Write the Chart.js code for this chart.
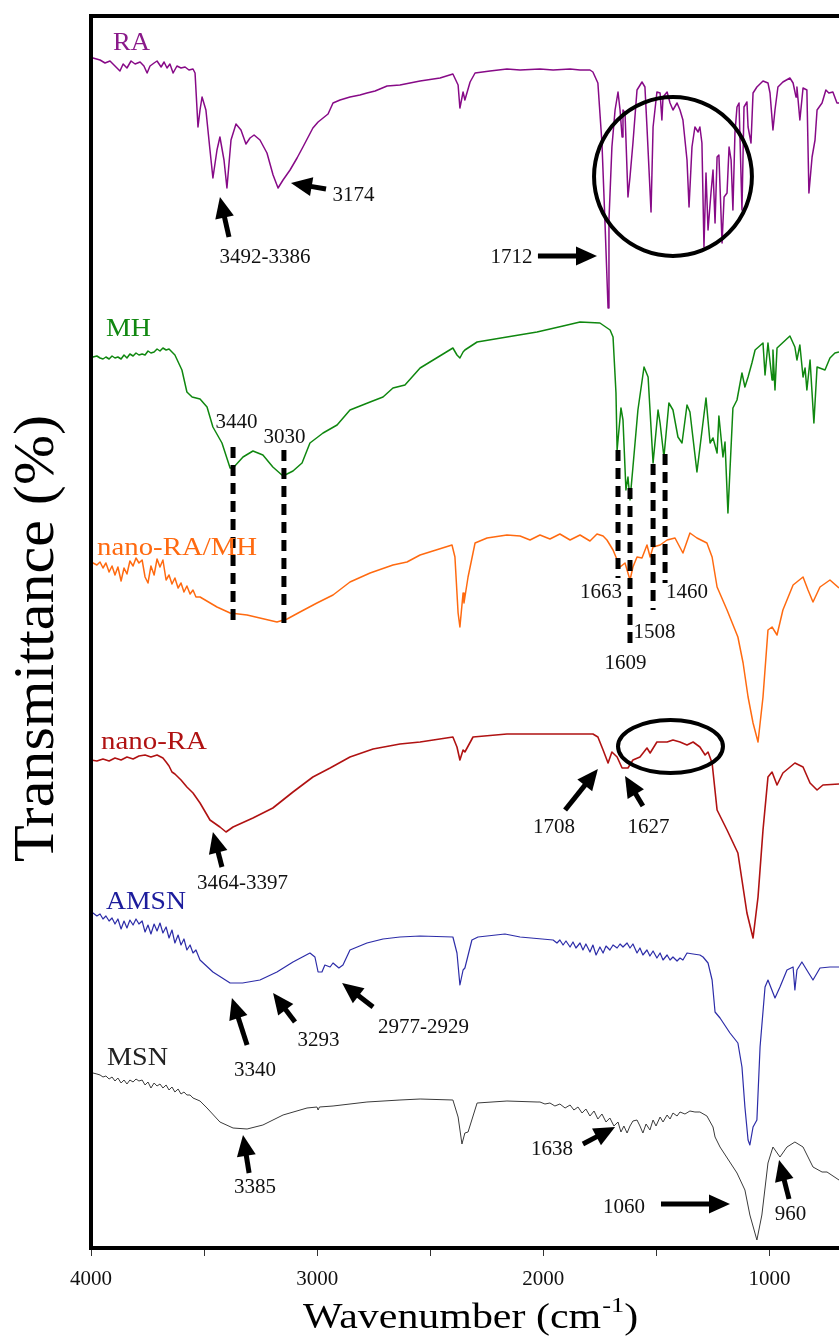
<!DOCTYPE html>
<html><head><meta charset="utf-8">
<script src="https://cdn.jsdelivr.net/npm/chart.js@4.4.1/dist/chart.umd.min.js"></script>
<style>html,body{margin:0;padding:0;background:#fff;}#wrap{position:relative;width:839px;height:1338px;}</style>
</head><body><div id="wrap"><canvas id="c"></canvas></div>
<script>
// ---------- DATA: [wavenumber (cm-1), offset transmittance (arb.)] ----------
const seriesNames = ['RA', 'MH', 'nano-RA/MH', 'nano-RA', 'AMSN', 'MSN'];
const tickValues = [4000, 3500, 3000, 2500, 2000, 1500, 1000];
const tickLabels = ['4000', '', '3000', '', '2000', '', '1000'];

const RA = [[4000,1190],[3991,1190],[3960,1188],[3938,1185],[3916,1187],[3894,1182],[3872,1177],[3858,1184],[3841,1180],[3823,1187],[3805,1184],[3783,1186],[3766,1182],[3752,1175],[3739,1182],[3721,1185],[3708,1187],[3690,1181],[3677,1186],[3664,1180],[3651,1184],[3637,1175],[3620,1182],[3602,1180],[3584,1181],[3567,1178],[3549,1179],[3540,1175],
[3527,1121],[3518,1138],[3509,1151],[3492,1138],[3474,1098],[3461,1070],[3443,1098],[3430,1111],[3412,1088],[3399,1060],[3381,1108],[3359,1124],[3337,1118],[3315,1104],[3297,1110],[3279,1113],[3253,1108],[3222,1095],[3195,1073],[3173,1060],[3151,1068],[3120,1078],[3089,1090],[3063,1101],[3019,1120],[2996,1126],[2974,1130],[2952,1134],[2930,1145],[2899,1148],[2855,1151],[2811,1153],[2780,1155],[2744,1157],[2691,1162],[2634,1163],[2545,1167],[2457,1170],[2400,1174],[2377,1163],[2369,1140],[2355,1156],[2347,1148],[2324,1166],[2302,1175],[2236,1177],[2161,1179],[2103,1178],[2015,1179],[1957,1178],[1882,1179],[1838,1178],[1794,1178],[1781,1176],[1759,1165],[1741,1105],[1728,1028],[1714,940],[1710,1028],[1697,1101],[1683,1138],[1670,1156],[1661,1138],[1652,1111],[1648,1138],[1639,1135],[1626,1051],[1617,1071],[1604,1105],[1586,1158],[1564,1166],[1551,1161],[1542,1121],[1524,1036],[1515,1121],[1498,1156],[1484,1155],[1476,1128],[1471,1151],[1453,1156],[1440,1145],[1427,1138],[1409,1145],[1396,1138],[1383,1128],[1365,1088],[1356,1041],[1343,1101],[1330,1121],[1316,1116],[1308,1121],[1299,1105],[1290,1001],[1281,1075],[1272,1018],[1259,1055],[1250,1078],[1241,1025],[1232,1091],[1224,1093],[1210,1005],[1201,1051],[1188,1055],[1179,1101],[1170,1088],[1162,1038],[1153,1115],[1144,1141],[1135,1145],[1122,1038],[1113,1141],[1100,1146],[1095,1121],[1082,1105],[1073,1155],[1056,1161],[1029,1167],[1007,1165],[998,1155],[985,1118],[976,1138],[963,1161],[941,1166],[910,1170],[896,1165],[883,1151],[879,1161],[866,1128],[852,1160],[835,1158],[826,1055],[812,1091],[799,1108],[790,1138],[768,1145],[751,1158],[738,1155],[720,1156],[702,1145],[693,1145]];

const MH = [[4000,891],[3991,891],[3974,892],[3960,890],[3947,889],[3934,891],[3920,889],[3907,892],[3894,890],[3881,891],[3867,889],[3854,893],[3841,890],[3828,894],[3814,892],[3801,895],[3788,893],[3774,894],[3761,893],[3748,897],[3735,895],[3721,896],[3708,899],[3695,897],[3682,900],[3668,898],[3655,899],[3642,896],[3629,893],[3598,878],[3576,856],[3553,851],[3518,849],[3487,841],[3461,821],[3421,805],[3385,780],[3372,780],[3328,791],[3284,797],[3240,793],[3196,781],[3151,772],[3107,777],[3067,785],[3032,805],[2974,815],[2912,823],[2855,838],[2766,846],[2709,851],[2665,860],[2612,863],[2545,880],[2400,900],[2382,893],[2369,890],[2355,896],[2347,898],[2293,906],[2161,911],[2028,916],[1913,922],[1838,926],[1750,925],[1705,918],[1692,911],[1679,855],[1674,798],[1657,840],[1648,828],[1635,758],[1626,771],[1617,748],[1604,781],[1582,838],[1555,881],[1537,871],[1515,785],[1493,838],[1484,825],[1467,791],[1445,845],[1427,838],[1405,811],[1387,805],[1365,843],[1352,836],[1321,776],[1281,850],[1263,805],[1250,810],[1232,795],[1224,832],[1206,791],[1197,806],[1184,735],[1162,840],[1144,848],[1122,875],[1109,861],[1095,871],[1078,885],[1064,898],[1029,905],[1020,873],[1007,905],[989,868],[985,898],[976,858],[967,900],[910,912],[888,901],[879,888],[866,903],[852,871],[843,880],[835,858],[821,888],[804,825],[790,881],[755,878],[733,890],[711,895],[693,896]];

const NANO_RA_MH = [[4000,685],[3991,685],[3974,683],[3960,686],[3947,680],[3934,685],[3920,676],[3907,682],[3894,673],[3881,681],[3867,667],[3854,680],[3841,674],[3828,687],[3814,682],[3801,690],[3788,685],[3774,688],[3761,671],[3748,665],[3735,682],[3721,673],[3708,689],[3695,681],[3682,688],[3668,668],[3655,673],[3642,664],[3629,670],[3615,660],[3602,665],[3589,656],[3576,662],[3562,654],[3549,658],[3536,651],[3518,651],[3443,641],[3385,635],[3310,633],[3178,626],[3133,629],[3076,636],[3001,645],[2930,653],[2855,666],[2766,675],[2665,683],[2603,686],[2545,693],[2404,703],[2391,691],[2377,635],[2369,621],[2355,655],[2351,645],[2333,671],[2302,705],[2249,710],[2161,713],[2103,712],[2059,708],[2015,713],[1971,709],[1927,714],[1882,708],[1838,713],[1794,707],[1763,714],[1736,712],[1719,708],[1692,698],[1661,681],[1639,685],[1617,668],[1604,681],[1586,691],[1564,690],[1542,703],[1528,691],[1515,701],[1484,703],[1453,708],[1418,710],[1383,695],[1352,715],[1321,710],[1277,705],[1254,691],[1232,661],[1188,638],[1140,611],[1117,585],[1095,551],[1073,525],[1051,506],[1029,551],[1007,618],[989,621],[967,613],[941,638],[896,663],[852,671],[830,658],[808,646],[777,661],[733,668],[693,660]];

const NANO_RA = [[4000,488],[3974,487],[3947,489],[3920,487],[3894,490],[3867,488],[3841,491],[3814,489],[3788,492],[3761,493],[3735,491],[3708,493],[3682,490],[3668,486],[3655,482],[3642,476],[3629,474],[3602,468],[3576,461],[3549,455],[3518,445],[3474,428],[3430,421],[3403,416],[3372,421],[3284,430],[3196,440],[3107,456],[3019,471],[2943,480],[2855,491],[2753,499],[2634,504],[2545,506],[2400,511],[2382,501],[2369,488],[2355,498],[2347,496],[2311,511],[2161,514],[1957,514],[1781,514],[1759,511],[1736,498],[1714,485],[1697,496],[1674,491],[1652,480],[1626,480],[1604,488],[1573,491],[1542,500],[1528,495],[1498,506],[1453,506],[1427,508],[1396,506],[1365,503],[1338,506],[1308,501],[1285,493],[1272,496],[1254,485],[1232,438],[1188,418],[1140,395],[1122,368],[1100,335],[1073,310],[1051,351],[1029,418],[1007,471],[989,476],[967,463],[941,475],[888,485],[852,481],[821,465],[790,458],[764,463],[693,464]];

const AMSN = [[4000,335],[3991,335],[3974,332],[3960,334],[3947,329],[3934,332],[3920,327],[3907,330],[3894,324],[3881,329],[3867,319],[3854,327],[3841,320],[3828,328],[3814,323],[3801,329],[3788,324],[3774,327],[3761,316],[3748,323],[3735,314],[3721,324],[3708,317],[3695,325],[3682,315],[3668,321],[3655,310],[3642,318],[3629,305],[3615,313],[3602,303],[3589,309],[3576,298],[3562,303],[3549,295],[3536,298],[3518,288],[3461,276],[3385,265],[3330,265],[3253,268],[3178,276],[3107,286],[3032,295],[3010,291],[2996,276],[2979,276],[2966,283],[2943,281],[2930,285],[2904,280],[2886,283],[2855,298],[2780,305],[2709,309],[2634,311],[2545,312],[2400,311],[2382,295],[2369,263],[2355,278],[2347,280],[2316,308],[2289,311],[2170,314],[2103,311],[1957,308],[1940,305],[1927,308],[1913,303],[1900,307],[1882,301],[1869,306],[1856,300],[1838,305],[1825,298],[1812,304],[1794,296],[1781,303],[1767,293],[1750,301],[1736,295],[1723,302],[1706,298],[1692,303],[1674,300],[1661,304],[1648,301],[1630,305],[1617,300],[1604,304],[1586,295],[1573,300],[1560,293],[1542,298],[1529,292],[1515,297],[1498,290],[1484,295],[1471,288],[1453,293],[1440,288],[1427,291],[1409,287],[1396,290],[1383,288],[1365,295],[1338,294],[1308,293],[1294,291],[1272,285],[1254,268],[1241,236],[1219,230],[1175,215],[1140,205],[1122,181],[1109,141],[1095,108],[1087,103],[1073,121],[1056,128],[1042,201],[1020,261],[1007,268],[976,250],[954,261],[923,278],[896,281],[888,258],[879,278],[857,286],[830,276],[808,268],[777,280],[733,281],[693,281]];

const MSN = [[4000,175],[3991,175],[3974,174],[3960,173],[3947,171],[3934,172],[3920,169],[3907,171],[3894,167],[3881,170],[3867,165],[3854,168],[3841,164],[3828,168],[3814,166],[3801,169],[3788,167],[3774,168],[3761,163],[3748,166],[3735,160],[3721,165],[3708,162],[3695,164],[3682,160],[3668,163],[3655,158],[3642,161],[3629,156],[3615,159],[3602,154],[3589,156],[3576,153],[3562,153],[3549,150],[3518,147],[3487,140],[3430,126],[3372,120],[3310,119],[3240,123],[3151,133],[3045,140],[3001,141],[2996,138],[2990,141],[2930,142],[2780,146],[2634,148],[2545,149],[2400,148],[2377,131],[2360,104],[2347,115],[2333,116],[2293,145],[2161,147],[2028,146],[2015,146],[1993,144],[1971,145],[1949,142],[1927,144],[1904,140],[1882,143],[1865,138],[1847,141],[1829,135],[1812,139],[1794,132],[1776,137],[1759,129],[1741,134],[1723,126],[1706,130],[1688,122],[1670,126],[1657,116],[1644,122],[1630,115],[1617,122],[1604,127],[1586,128],[1573,122],[1560,115],[1546,124],[1529,118],[1515,128],[1502,122],[1484,131],[1471,126],[1453,133],[1440,129],[1427,135],[1409,132],[1396,136],[1374,134],[1352,137],[1330,136],[1308,136],[1277,132],[1250,121],[1241,111],[1219,101],[1144,75],[1109,58],[1087,33],[1056,8],[1034,33],[1007,85],[985,101],[954,91],[923,101],[888,106],[852,101],[808,81],[768,76],[746,76],[693,68]];

const seriesData = [RA, MH, NANO_RA_MH, NANO_RA, AMSN, MSN];

// series name labels: [left wavenumber, centre value]
const nameAnchors = [[3903,1207],[3934,921],[3973,702],[3956,508],[3934,348],[3929,192]];
// peak labels: [text, centre wavenumber, centre value]
const peakLabels = [['3174',2840,1054],['3492-3386',3231,992],['1712',2141,992],['3440',3357,827],['3030',3145,812],['1663',1745,657],['1460',1365,657],['1508',1509,617],['1609',1637,586],['3464-3397',3330,366],['1708',1953,422],['1627',1535,422],['3340',3275,179],['3293',2994,209],['2977-2929',2530,222],['3385',3275,62],['1638',1962,100],['1060',1644,42],['960',907,35]];
// arrows: [tail wn, tail value, tip wn, tip value]
const arrows = [[2961,1059,3116,1065],[3390,1011,3430,1051],[2024,992,1763,992],[3421,381,3461,416],[1904,438,1759,479],[1560,442,1639,472],[3310,203,3377,250],[3098,226,3195,255],[2753,241,2890,265],[3301,75,3328,113],[1825,104,1683,121],[1480,44,1175,44],[914,49,958,88]];
// dashed guide lines: [wn, value top, value bottom]
const guides = [[3372,801,623],[3147,798,621],[1670,798,670],[1617,760,603],[1515,784,638],[1462,794,665]];
// highlight ellipses: [wn left, wn right, value top, value bottom]
const rings = [[1776,1078,1151,992],[1670,1206,528,475]];

const xMin = 693, xMax = 4000, yMin = 0, yMax = 1232;

// ---------- STYLE ----------
const SERIF = '"Liberation Serif", "DejaVu Serif", serif';
const lineColors = ['#870a87', '#0f870f', '#ff6a10', '#b01212', '#2c2ca8', '#3a3a3a'];
const lineWidths = [1.5, 1.5, 1.5, 1.6, 1.2, 1.0];
const nameColors = ['#8a1a8a', '#118811', '#ff6a10', '#b01212', '#1c1c9c', '#222222'];
const nameWidths = [37, 45, 160, 106, 80, 61];

function stretchText(ctx, str, x, baseline, targetW, align) {
  const w = ctx.measureText(str).width;
  const s = targetW ? targetW / w : 1;
  ctx.save();
  ctx.translate(x, baseline);
  ctx.scale(s, 1);
  ctx.textAlign = align || 'left';
  ctx.textBaseline = 'alphabetic';
  ctx.fillText(str, 0, 0);
  ctx.restore();
}

const annot = {
  id: 'annot',
  afterDraw(chart) {
    const {ctx, chartArea: a, scales} = chart;
    const X = w => scales.x.getPixelForValue(w);
    const Y = v => scales.y.getPixelForValue(v);
    ctx.save();
    // frame
    ctx.strokeStyle = '#000'; ctx.lineWidth = 4; ctx.lineCap = 'butt'; ctx.setLineDash([]);
    ctx.beginPath();
    ctx.moveTo(a.left, a.bottom + 2); ctx.lineTo(a.left, a.top - 2);
    ctx.moveTo(a.left - 2, a.top); ctx.lineTo(a.right, a.top);
    ctx.moveTo(a.left - 2, a.bottom); ctx.lineTo(a.right, a.bottom);
    ctx.stroke();
    // rings
    ctx.lineWidth = 4;
    rings.forEach(r => {
      const x1 = X(r[0]), x2 = X(r[1]), y1 = Y(r[2]), y2 = Y(r[3]);
      ctx.beginPath();
      ctx.ellipse((x1 + x2) / 2, (y1 + y2) / 2, Math.abs(x2 - x1) / 2, Math.abs(y2 - y1) / 2, 0, 0, Math.PI * 2);
      ctx.stroke();
    });
    // dashed guides
    ctx.lineWidth = 5; ctx.setLineDash([11, 7]);
    guides.forEach(g => {
      ctx.beginPath(); ctx.moveTo(X(g[0]), Y(g[1])); ctx.lineTo(X(g[0]), Y(g[2])); ctx.stroke();
    });
    ctx.setLineDash([]);
    // arrows
    ctx.fillStyle = '#000';
    arrows.forEach(ar => {
      const x1 = X(ar[0]), y1 = Y(ar[1]), x2 = X(ar[2]), y2 = Y(ar[3]);
      const ang = Math.atan2(y2 - y1, x2 - x1);
      const hl = 21, hw = 9.5;
      const bx = x2 - hl * Math.cos(ang), by = y2 - hl * Math.sin(ang);
      ctx.lineWidth = 5;
      ctx.beginPath(); ctx.moveTo(x1, y1); ctx.lineTo(bx + Math.cos(ang), by + Math.sin(ang)); ctx.stroke();
      ctx.beginPath();
      ctx.moveTo(x2, y2);
      ctx.lineTo(bx + hw * Math.sin(ang), by - hw * Math.cos(ang));
      ctx.lineTo(bx - hw * Math.sin(ang), by + hw * Math.cos(ang));
      ctx.closePath(); ctx.fill();
    });
    // peak labels
    ctx.font = '21px ' + SERIF; ctx.fillStyle = '#111';
    peakLabels.forEach(p => stretchText(ctx, p[0], X(p[1]), Y(p[2]) + 7, 0, 'center'));
    // series names
    ctx.font = '26px ' + SERIF;
    seriesNames.forEach((n, i) => {
      ctx.fillStyle = nameColors[i];
      stretchText(ctx, n, X(nameAnchors[i][0]), Y(nameAnchors[i][1]) + 8.6, nameWidths[i], 'left');
    });
    // axis titles
    ctx.fillStyle = '#000';
    const main = 'Wavenumber (cm', sup = '-1', close = ')';
    ctx.font = '35px ' + SERIF; const w1 = ctx.measureText(main).width, w3 = ctx.measureText(close).width;
    ctx.font = '22px ' + SERIF; const w2 = ctx.measureText(sup).width;
    const total = w1 + w2 + w3, target = 334, s = target / total;
    const left = 303, base = 1328;
    ctx.save(); ctx.translate(left, base); ctx.scale(s, 1); ctx.textAlign = 'left'; ctx.textBaseline = 'alphabetic';
    ctx.font = '35px ' + SERIF; ctx.fillText(main, 0, 0);
    ctx.font = '22px ' + SERIF; ctx.fillText(sup, w1 + 1, -16);
    ctx.font = '35px ' + SERIF; ctx.fillText(close, w1 + w2 + 1, 0);
    ctx.restore();
    ctx.save(); ctx.translate(53, 638.5); ctx.rotate(-Math.PI / 2);
    ctx.font = '57px ' + SERIF;
    stretchText(ctx, 'Transmittance (%)', 0, 0, 447, 'center');
    ctx.restore();
    ctx.restore();
  }
};

new Chart(document.getElementById('c'), {
  type: 'line',
  data: {
    datasets: seriesData.map((s, i) => ({
      label: seriesNames[i],
      data: s.map(p => ({x: p[0], y: p[1]})),
      borderColor: lineColors[i], borderWidth: lineWidths[i],
      pointRadius: 0, fill: false, tension: 0, borderJoinStyle: 'round'
    }))
  },
  options: {
    responsive: true, maintainAspectRatio: false, animation: false,
    layout: {padding: {left: 91, top: 16, right: 0, bottom: 0}},
    plugins: {legend: {display: false}, tooltip: {enabled: false}},
    scales: {
      x: {
        type: 'linear', reverse: true, min: xMin, max: xMax,
        afterBuildTicks: sc => { sc.ticks = tickValues.map(v => ({value: v})); },
        afterFit: sc => { sc.height = 90; },
        border: {display: false},
        grid: {drawOnChartArea: false, drawTicks: true, tickLength: 8, color: '#333', lineWidth: 1},
        ticks: {autoSkip: false, maxRotation: 0, minRotation: 0, padding: 11, color: '#111',
          font: {family: SERIF, size: 21},
          callback: (v, i) => tickLabels[i]}
      },
      y: {type: 'linear', min: yMin, max: yMax, display: false}
    }
  },
  plugins: [annot]
});
</script></body></html>
